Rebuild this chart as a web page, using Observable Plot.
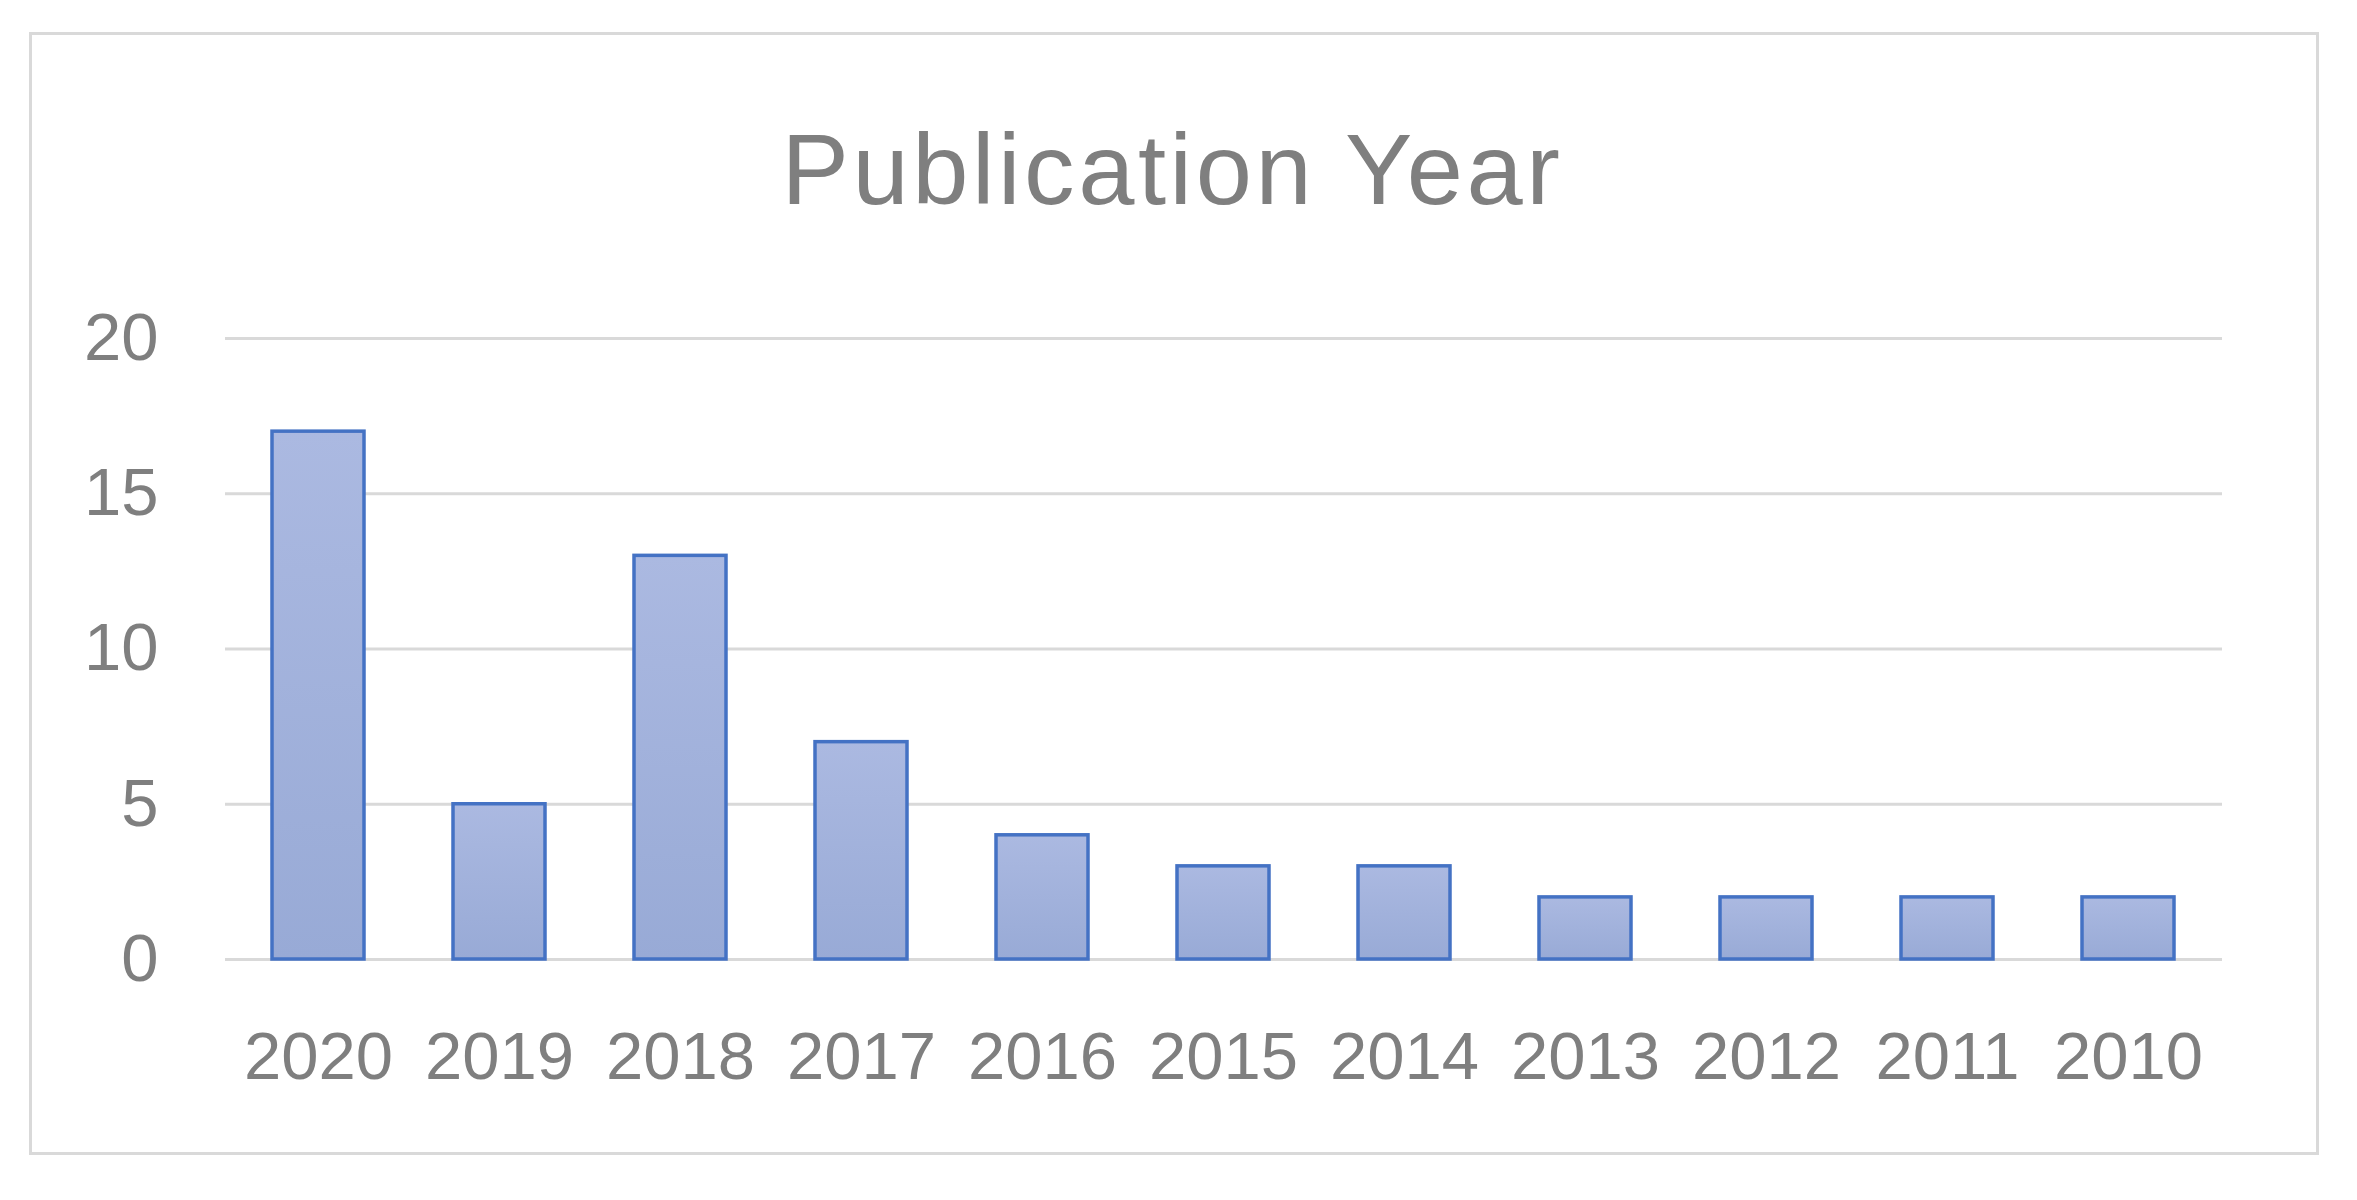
<!DOCTYPE html>
<html>
<head>
<meta charset="utf-8">
<script src="https://cdn.jsdelivr.net/npm/d3@7"></script>
<script src="https://cdn.jsdelivr.net/npm/@observablehq/plot@0.6"></script>
<style>
  html, body { margin: 0; padding: 0; background: #fff; }
  #wrap { position: relative; width: 2357px; height: 1200px; overflow: hidden; font-family: "Liberation Sans", Arial, sans-serif; }
  #frame { position: absolute; left: 29px; top: 32px; width: 2284px; height: 1117px; border: 3px solid #d9d9d9; }
  #title { position: absolute; left: 0; width: 2357px; top: 119px; text-align: center; font-size: 101px; letter-spacing: 3.6px; color: #7f7f7f; line-height: 1; white-space: nowrap; transform: translateX(-6px); }
  #chart { position: absolute; left: 0; top: 0; }
</style>
</head>
<body>
<div id="wrap">
  <div id="frame"></div>
  <div id="title">Publication Year</div>
  <div id="chart"></div>
</div>
<script>
const years = ["2020", "2019", "2018", "2017", "2016", "2015", "2014", "2013", "2012", "2011", "2010"];
const counts = [17, 5, 13, 7, 4, 3, 3, 2, 2, 2, 2];
const yTicks = [0, 5, 10, 15, 20];

const data = years.map((y, i) => ({year: y, count: counts[i]}));

const chart = Plot.plot({
  width: 2357,
  height: 1200,
  marginLeft: 225,
  marginRight: 135,
  marginTop: 338,
  marginBottom: 241,
  style: {fontFamily: "'Liberation Sans', Arial, sans-serif", fontSize: "67px", color: "#7f7f7f", background: "transparent"},
  x: {domain: years, paddingInner: 0.49, paddingOuter: 0.245, label: null},
  y: {domain: [0, 20], label: null},
  marks: [
    Plot.gridY(yTicks, {stroke: "#d9d9d9", strokeOpacity: 1, strokeWidth: 3}),
    Plot.barY(data, {x: "year", y: "count", fill: "url(#barGrad)", stroke: "#4472c4", strokeWidth: 3.5}),
    Plot.axisY(yTicks, {tickSize: 0, tickPadding: 67, fill: "#7f7f7f", fontSize: 67, label: null}),
    Plot.axisX({tickSize: 0, tickPadding: 72, fill: "#7f7f7f", fontSize: 67, label: null})
  ]
});

const svg = d3.select(chart);
const defs = svg.insert("defs", ":first-child");
const grad = defs.append("linearGradient").attr("id", "barGrad").attr("x1", 0).attr("y1", 0).attr("x2", 0).attr("y2", 1);
grad.append("stop").attr("offset", "0%").attr("stop-color", "#abb9e1");
grad.append("stop").attr("offset", "100%").attr("stop-color", "#98aad6");

document.getElementById("chart").appendChild(chart);
</script>
</body>
</html>
